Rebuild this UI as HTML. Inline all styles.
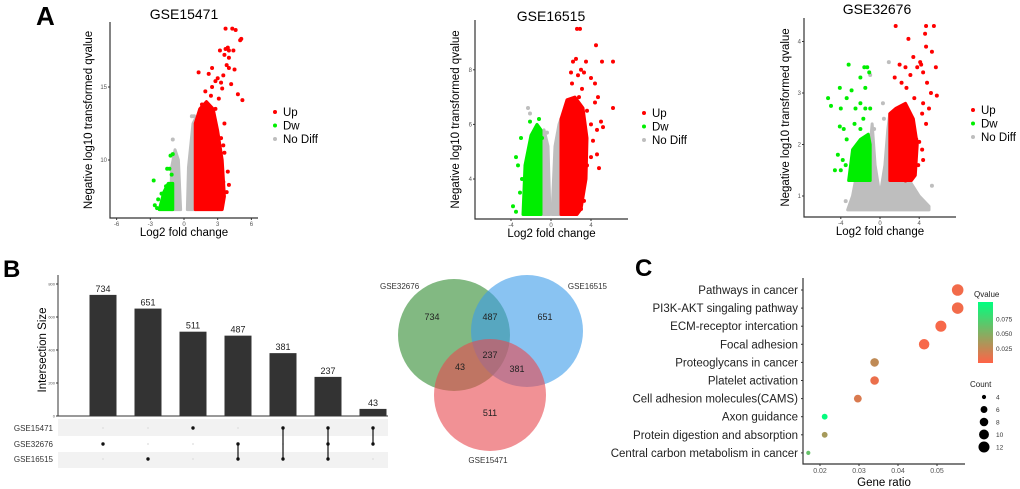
<!DOCTYPE html>
<html><head><meta charset="utf-8"><style>
body{margin:0;background:#fff;}
svg{display:block;font-family:"Liberation Sans",sans-serif;}
</style></head><body>
<svg id="fig" width="1020" height="489" viewBox="0 0 1020 489">
<text x="36" y="25" font-size="26" font-weight="bold">A</text>
<text x="3" y="277" font-size="24" font-weight="bold">B</text>
<text x="635" y="276" font-size="24" font-weight="bold">C</text>
<g id="volc"></g>
<g id="upset"></g>
<g id="venn"></g>
<g id="dot"></g>
</svg>
<script>
const NS="http://www.w3.org/2000/svg";
function mk(p,t,a,txt){const e=document.createElementNS(NS,t);for(const k in a)e.setAttribute(k,a[k]);if(txt!==undefined)e.textContent=txt;p.appendChild(e);return e;}

// ---------- Volcano data ----------
const v1Titles="GSE15471";
const v1XTicks=[-6,-3,0,3,6];
const v1YTicks=[10,15];
const v1Red=[[3.7,19.0],[4.3,19.0],[4.6,18.9],[5.1,18.3],[5.0,18.2],[3.7,17.6],[3.9,17.7],[4.0,17.5],[4.4,17.5],[3.2,17.5],[3.6,17.2],[4.0,17.0],[3.8,16.5],[4.0,16.3],[4.5,16.2],[2.5,16.3],[1.3,16.0],[2.2,15.9],[3.5,15.8],[3.0,15.6],[2.8,15.4],[3.3,15.3],[4.2,15.2],[2.5,15.0],[3.4,14.9],[4.8,14.5],[5.2,14.1],[1.9,14.7],[2.4,14.4],[3.1,14.2],[1.6,13.8],[2.8,13.5],[3.6,12.5],[3.5,11.0],[3.6,10.5],[3.2,9.8],[3.0,9.0],[3.5,8.5],[3.8,7.8],[3.4,7.2],[2.9,7.0],[4.0,8.3],[3.9,9.2],[3.3,11.5]];
const v1Green=[[-2.7,8.6],[-1.2,10.3],[-1.0,10.4],[-1.3,9.4],[-1.5,9.4],[-1.1,9.0],[-1.6,8.2],[-2.0,7.7],[-2.3,7.3],[-2.6,6.9],[-2.4,6.7],[-1.8,7.0],[-1.4,7.5]];
const v1Grey=[[-1.0,11.4],[0.7,13.0],[0.9,13.0]];
const v1RedBand=[[1.0,6.6],[1.0,12.5],[1.4,13.5],[2.0,14.0],[2.6,13.5],[3.0,12.0],[3.4,10.0],[3.6,7.5],[3.4,6.6]];
const v1GreenBand=[[-2.2,6.6],[-1.8,7.8],[-1.4,8.4],[-1.0,8.4],[-1.0,6.6]];
const v1GreyBands=[[[-1.2,6.6],[-1.1,9.5],[-0.8,10.7],[-0.5,10.0],[-0.3,6.6]],[[0.3,6.6],[0.4,9.5],[0.8,12.5],[1.0,12.8],[1.0,6.6]]];

const v2XTicks=[-4,0,4];
const v2YTicks=[4,6,8];
const v2Red=[[2.6,9.5],[2.9,9.5],[4.5,8.9],[2.2,8.3],[2.5,8.4],[3.5,8.3],[5.1,8.3],[6.2,8.3],[3.0,8.0],[2.0,7.9],[2.7,7.8],[3.3,7.9],[4.0,7.7],[4.4,7.5],[3.1,7.3],[2.1,7.5],[2.8,7.0],[4.7,7.0],[4.4,6.8],[6.2,6.6],[3.6,6.5],[4.0,6.0],[4.6,5.8],[5.0,6.1],[5.2,5.9],[4.2,5.4],[3.5,5.0],[4.0,4.8],[4.6,4.9],[3.6,4.5],[4.8,4.4],[3.1,3.8],[2.7,3.5],[3.3,3.2],[3.0,2.9],[2.4,3.0]];
const v2Green=[[-2.1,6.1],[-1.2,6.2],[-3.0,5.5],[-3.5,4.8],[-3.3,4.5],[-2.9,4.0],[-3.1,3.5],[-2.6,3.2],[-3.8,3.0],[-3.5,2.8],[-1.3,5.3],[-0.9,5.5]];
const v2Grey=[[-2.3,6.6],[-2.1,6.4],[-0.4,5.7]];
const v2RedBand=[[1.0,2.7],[1.0,6.2],[1.6,6.9],[2.4,7.0],[3.2,6.6],[3.6,5.5],[3.5,4.0],[3.0,2.9],[2.6,2.7]];
const v2GreenBand=[[-2.8,2.7],[-2.6,4.5],[-2.0,5.6],[-1.4,6.0],[-1.0,5.8],[-1.0,2.7]];
const v2GreyBands=[[[-1.0,2.7],[-1.0,5.4],[-0.7,5.8],[-0.3,5.2],[-0.1,2.7]],[[0.1,2.7],[0.4,5.2],[0.8,6.0],[1.0,6.2],[1.0,2.7]]];

const v3XTicks=[-4,0,4];
const v3YTicks=[1,2,3,4];
const v3Red=[[1.6,4.3],[4.7,4.3],[5.5,4.3],[4.6,4.15],[2.9,4.05],[4.7,3.9],[5.3,3.8],[3.4,3.7],[4.1,3.6],[3.8,3.5],[4.2,3.55],[2.0,3.55],[2.6,3.5],[4.4,3.4],[5.7,3.5],[3.1,3.35],[1.5,3.3],[2.2,3.2],[4.8,3.2],[2.7,3.1],[5.2,3.0],[3.5,2.9],[4.4,2.8],[5.8,2.95],[4.3,2.6],[5.0,2.7],[4.7,2.4],[3.7,2.1],[4.0,2.05],[4.3,1.9],[3.9,1.6],[4.4,1.7],[3.5,1.4],[2.6,1.3]];
const v3Green=[[-3.2,3.55],[-1.6,3.5],[-1.3,3.5],[-1.1,3.4],[-2.0,3.3],[-4.1,3.1],[-2.9,3.05],[-1.5,3.1],[-3.4,2.9],[-5.3,2.9],[-5.0,2.75],[-4.0,2.7],[-2.5,2.7],[-1.5,2.7],[-1.0,2.7],[-2.0,2.8],[-1.7,2.5],[-2.6,2.4],[-4.1,2.35],[-3.7,2.3],[-2.0,2.3],[-3.4,2.1],[-2.3,2.0],[-4.3,1.8],[-3.8,1.7],[-3.5,1.6],[-4.0,1.5],[-4.6,1.5],[-3.0,1.5]];
const v3Grey=[[-1.0,3.35],[0.9,3.6],[0.3,2.8],[0.4,2.5],[-0.6,2.3],[5.3,1.2],[4.5,0.85],[-3.5,0.9]];
const v3RedBand=[[1.0,1.3],[1.0,2.6],[1.6,2.7],[2.6,2.8],[3.4,2.5],[3.8,2.0],[3.6,1.4],[3.2,1.3]];
const v3GreenBand=[[-3.2,1.3],[-2.8,1.9],[-2.0,2.1],[-1.2,2.2],[-1.0,2.0],[-1.0,1.3]];
const v3GreyBands=[[[-3.3,0.73],[-2.8,1.0],[-2.5,1.3],[-1.0,1.3],[-1.0,2.0],[-0.8,2.4],[-0.5,1.6],[0,1.0],[0.5,1.6],[0.8,2.3],[1.0,2.6],[1.0,1.3],[3,1.3],[4,1.0],[5,0.8],[5,0.73]]];

function volcano(o){
  const g=mk(document.getElementById('volc'),'g',{});
  
  
  const X=v=>o.x0+v*o.xs, Y=v=>o.yRefPx-(v-o.yRef)*o.ys;
  const poly=(pts,c)=>{const p=mk(g,'polygon',{points:pts.map(q=>X(q[0])+','+Y(q[1])).join(' '),fill:c,stroke:c,'stroke-width':3,'stroke-linejoin':'round'});};
  o.greyBands.forEach(b=>poly(b,'#bebebe'));
  o.grey.forEach(q=>{const c=mk(g,'circle',{cx:X(q[0]),cy:Y(q[1]),r:2,fill:'#bebebe'});});
  poly(o.greenBand,'#00ee00');
  o.green.forEach(q=>{const c=mk(g,'circle',{cx:X(q[0]),cy:Y(q[1]),r:2,fill:'#00ee00'});});
  poly(o.redBand,'#ff0000');
  o.red.forEach(q=>{const c=mk(g,'circle',{cx:X(q[0]),cy:Y(q[1]),r:2,fill:'#ff0000'});});
  const ax=mk(g,'path',{d:`M${o.ax},${o.top}V${o.bot}H${o.ar}`,stroke:'#333',fill:'none','stroke-width':1.2});
  
  o.xt.forEach(t=>{mk(g,'line',{x1:X(t),x2:X(t),y1:o.bot,y2:o.bot+2,stroke:'#333'});const e=mk(g,'text',{x:X(t),y:o.bot+8,'font-size':6,fill:'#555','text-anchor':'middle'},String(t));});
  o.yt.forEach(t=>{mk(g,'line',{x1:o.ax-2,x2:o.ax,y1:Y(t),y2:Y(t),stroke:'#333'});const e=mk(g,'text',{x:o.ax-3,y:Y(t)+2,'font-size':6,fill:'#555','text-anchor':'end'},String(t));});
  let e=mk(g,'text',{x:o.tx,y:o.ty,'font-size':14,'text-anchor':'middle'},o.title);
  e=mk(g,'text',{x:(o.ax+o.ar)/2,y:o.bot+18,'font-size':11.5,'text-anchor':'middle'},'Log2 fold change');
  e=mk(g,'text',{transform:`translate(${o.ylx},${(o.top+o.bot)/2}) rotate(-90)`,'font-size':11.5,'text-anchor':'middle'},'Negative log10 transformed qvalue');
  [['Up','#ff0000'],['Dw','#00ee00'],['No Diff','#bebebe']].forEach((l,i)=>{const y=o.ly+i*13.5;mk(g,'circle',{cx:o.lx,cy:y,r:2,fill:l[1]});const t=mk(g,'text',{x:o.lx+8,y:y+4,'font-size':11.5},l[0]);});
}
volcano({title:v1Titles,x0:184,xs:11.23,yRef:10,yRefPx:160,ys:14.6,ax:110,ar:258,top:22,bot:218,xt:v1XTicks,yt:v1YTicks,red:v1Red,green:v1Green,grey:v1Grey,redBand:v1RedBand,greenBand:v1GreenBand,greyBands:v1GreyBands,tx:184,ty:19,ylx:92,lx:275,ly:112});
volcano({title:'GSE16515',x0:551,xs:10,yRef:4,yRefPx:179,ys:27.3,ax:475,ar:628,top:20,bot:219,xt:v2XTicks,yt:v2YTicks,red:v2Red,green:v2Green,grey:v2Grey,redBand:v2RedBand,greenBand:v2GreenBand,greyBands:v2GreyBands,tx:551,ty:21,ylx:459,lx:644,ly:113});
volcano({title:'GSE32676',x0:880,xs:9.8,yRef:1,yRefPx:196,ys:51.5,ax:804,ar:956,top:18,bot:217,xt:v3XTicks,yt:v3YTicks,red:v3Red,green:v3Green,grey:v3Grey,redBand:v3RedBand,greenBand:v3GreenBand,greyBands:v3GreyBands,tx:877,ty:14,ylx:789,lx:973,ly:110});

// ---------- UpSet ----------
const upSizes=[734,651,511,487,381,237,43];
const upSets=["GSE15471","GSE32676","GSE16515"];
const upMembers=[[1],[2],[0],[1,2],[0,2],[0,1,2],[0,1]];
const upTicks=[0,200,400,600,800];
(function(){
  const g=document.getElementById('upset');
  const base=416, ys=0.165, X=i=>103+i*45, Y=v=>base-v*ys, rowY=[428,444,459];
  mk(g,'rect',{x:58,y:419,width:330,height:17,fill:'#f2f2f2'});
  mk(g,'rect',{x:58,y:452,width:330,height:16,fill:'#f2f2f2'});
  mk(g,'line',{x1:58,y1:275,x2:58,y2:base,stroke:'#333'});
  mk(g,'line',{x1:58,y1:base,x2:388,y2:base,stroke:'#333'});
  upTicks.forEach(t=>{mk(g,'line',{x1:56,x2:58,y1:Y(t),y2:Y(t),stroke:'#333'});const e=mk(g,'text',{x:55,y:Y(t)+1.5,'font-size':4,fill:'#555','text-anchor':'end'},String(t));});
  let e=mk(g,'text',{transform:'translate(46,350) rotate(-90)','font-size':11.5,'text-anchor':'middle'},'Intersection Size');
  upSizes.forEach((v,i)=>{
    const r=mk(g,'rect',{x:X(i)-13.5,y:Y(v),width:27,height:v*ys,fill:'#333'});
    
    const t=mk(g,'text',{x:X(i),y:Y(v)-3,'font-size':9,'text-anchor':'middle',fill:'#222'},String(v));
    
    for(let s=0;s<3;s++){mk(g,'circle',{cx:X(i),cy:rowY[s],r:upMembers[i].includes(s)?1.7:0.9,fill:upMembers[i].includes(s)?'#111':'#ddd'});}
    const m=upMembers[i];if(m.length>1){mk(g,'line',{x1:X(i),x2:X(i),y1:rowY[Math.min(...m)],y2:rowY[Math.max(...m)],stroke:'#111','stroke-width':1.2});}
  });
  upSets.forEach((s,i)=>{const t=mk(g,'text',{x:53,y:rowY[i]+3,'font-size':8,'text-anchor':'end',fill:'#333'},s);});
})();

// ---------- Venn ----------
const vennSets=["GSE32676","GSE16515","GSE15471"];
const vennCounts=["734","487","651","237","43","381","511"];
(function(){
  const g=document.getElementById('venn');
  const circ=[[454,335,'#2e8b2e'],[527,331,'#3b9bea'],[490,395,'#e8474f']];
  circ.forEach((c,i)=>{const e=mk(g,'circle',{cx:c[0],cy:c[1],r:56,fill:c[2],'fill-opacity':0.6});});
  const lp=[[380,289,'start'],[607,289,'end'],[488,463,'middle']];
  vennSets.forEach((s,i)=>{const e=mk(g,'text',{x:lp[i][0],y:lp[i][1],'font-size':8,'text-anchor':lp[i][2],fill:'#333'},s);});
  const np=[[432,320],[490,320],[545,320],[490,358],[460,370],[517,372],[490,416]];
  vennCounts.forEach((s,i)=>{const e=mk(g,'text',{x:np[i][0],y:np[i][1],'font-size':9,'text-anchor':'middle',fill:'#222'},s);});
})();

// ---------- Dot plot ----------
const dotTerms=["Pathways in cancer","PI3K-AKT singaling pathway","ECM-receptor intercation","Focal adhesion","Proteoglycans in cancer","Platelet activation","Cell adhesion molecules(CAMS)","Axon guidance","Protein digestion and absorption","Central carbon metabolism in cancer"];
const dotRatio=[0.0553,0.0553,0.0510,0.0467,0.0340,0.0340,0.0297,0.0212,0.0212,0.0170];
const dotCount=[13,13,12,11,8,8,7,5,5,4];
const dotQ=[0.005,0.005,0.003,0.003,0.025,0.008,0.015,0.098,0.035,0.06];
const dotXTicks=[0.02,0.03,0.04,0.05];
const dotQTicks=[0.025,0.050,0.075];
const countTicks=[4,6,8,10,12];
(function(){
  const g=document.getElementById('dot');
  const X=v=>820+(v-0.02)*3900, rowY=i=>290+i*18.1, R=c=>1+Math.sqrt(Math.max(c-3.5,0))*1.55;
  const col=q=>{const t=Math.min(q/0.1,1);const a=[255,99,71],b=[0,255,127];return `rgb(${a.map((v,k)=>Math.round(v+(b[k]-v)*t)).join(',')})`;};
  mk(g,'path',{d:'M803,278V464H965',stroke:'#333',fill:'none','stroke-width':1.2});
  dotXTicks.forEach(t=>{mk(g,'line',{x1:X(t),x2:X(t),y1:464,y2:466,stroke:'#333'});const e=mk(g,'text',{x:X(t),y:473,'font-size':7,fill:'#555','text-anchor':'middle'},t.toFixed(2));});
  let e=mk(g,'text',{x:884,y:486,'font-size':11.5,'text-anchor':'middle'},'Gene ratio');
  dotTerms.forEach((s,i)=>{
    mk(g,'line',{x1:801,x2:803,y1:rowY(i),y2:rowY(i),stroke:'#333'});
    const t=mk(g,'text',{x:798,y:rowY(i)+4,'font-size':11.5,'text-anchor':'end',fill:'#222'},s);
    const c=mk(g,'circle',{cx:X(dotRatio[i]),cy:rowY(i),r:R(dotCount[i]),fill:col(dotQ[i])});
  });
  const defs=mk(g,'defs',{});const lg=mk(defs,'linearGradient',{id:'qg',x1:0,y1:1,x2:0,y2:0});
  mk(lg,'stop',{offset:'0','stop-color':col(0)});mk(lg,'stop',{offset:'0.5','stop-color':col(0.05)});mk(lg,'stop',{offset:'1','stop-color':col(0.1)});
  const qTop=302,qBot=363,QY=q=>qBot-q/0.104*(qBot-qTop);
  e=mk(g,'text',{x:974,y:297,'font-size':8,fill:'#222'},'Qvalue');
  e=mk(g,'rect',{x:978,y:qTop,width:15,height:qBot-qTop,fill:'url(#qg)'});
  dotQTicks.forEach(q=>{const t=mk(g,'text',{x:996,y:QY(q)+2.5,'font-size':6.5,fill:'#333'},q.toFixed(3));});
  e=mk(g,'text',{x:970,y:387,'font-size':8,fill:'#222'},'Count');
  countTicks.forEach((c,i)=>{const y=397+i*12.5;mk(g,'circle',{cx:984,cy:y,r:R(c),fill:'#000'});const t=mk(g,'text',{x:996,y:y+2.5,'font-size':6.5,fill:'#333'},String(c));});
})();
</script>
</body></html>
